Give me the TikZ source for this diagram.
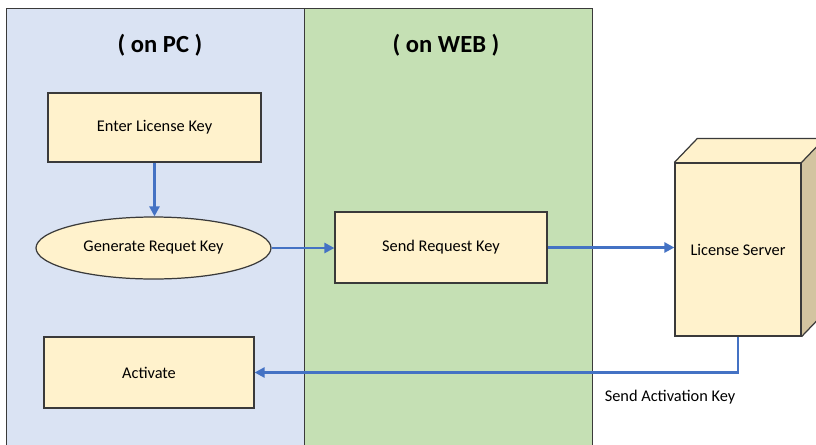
\documentclass[tikz,border=0pt]{standalone}
\usepackage{fontspec}
\setmainfont{Carlito}
\usetikzlibrary{positioning, shapes.geometric, arrows.meta, calc}

\definecolor{pcblue}{HTML}{DAE3F3}
\definecolor{webgreen}{HTML}{C5E0B4}
\definecolor{boxyellow}{HTML}{FFF2CC}
\definecolor{cubeside}{HTML}{D3C4A0}
\definecolor{flowblue}{HTML}{4472C4}
\definecolor{edgegray}{HTML}{3A3A3A}

\begin{document}
\begin{tikzpicture}[
    x=0.02cm, y=-0.02cm,
    font=\fontsize{9.3}{11}\selectfont,
    harrow/.style={-{Triangle[length=2mm, width=2mm]}, line width=1.4pt, color=flowblue},
    box/.style={
        rectangle,
        minimum height=1.4cm,
        text centered,
        draw=edgegray,
        line width=0.7pt,
        fill=boxyellow
    },
    lane/.style={
        rectangle,
        anchor=north west,
        minimum height=9.2cm,
        draw=edgegray,
        line width=0.8pt,
        fill=#1
    },
    lanelabel/.style={
        font=\fontsize{14}{16}\selectfont\bfseries
    }
]

% page size of the reference
\clip (0,0) rectangle (816,444);

% === SWIM LANES ===
\node (pc) [lane=pcblue, minimum width=5.96cm] at (6,8) {};
\node (web) [lane=webgreen, minimum width=5.76cm] at (304,8) {};
\node (pctitle) [lanelabel] at (160,45) {( on PC )};
\node (webtitle) [lanelabel] at (446,45) {( on WEB )};

% === PC SIDE ===
\node (enter) [box, minimum width=4.26cm, minimum height=1.38cm] at (154.5,127.5) {Enter License Key};
\node (generate) [ellipse, draw=edgegray, line width=0.7pt, fill=boxyellow,
    minimum width=4.7cm, minimum height=1.24cm] at (153.5,248) {Generate Requet Key};
\node (activate) [box, minimum width=4.2cm, minimum height=1.42cm] at (149,372.5) {Activate};

% === WEB SIDE ===
\node (send) [box, minimum width=4.24cm, minimum height=1.42cm] at (441,247.5) {Send Request Key};

% === LICENSE SERVER (cube) ===
\node (server) [box, minimum width=2.52cm, minimum height=3.46cm] at (738,249.5) {License Server};
\fill [boxyellow] (server.north west) -- ([shift={(23,-24)}]server.north west)
    -- ([shift={(23,-24)}]server.north east) -- (server.north east) -- cycle;
\fill [cubeside] (server.north east) -- ([shift={(23,-24)}]server.north east)
    -- ([shift={(23,-24)}]server.south east) -- (server.south east) -- cycle;
\draw [edgegray, line width=0.7pt, line join=round]
    (server.north west) -- ([shift={(23,-24)}]server.north west)
    -- ([shift={(23,-24)}]server.north east) -- ([shift={(23,-24)}]server.south east)
    -- (server.south east)
    (server.north east) -- ([shift={(23,-24)}]server.north east);
\draw [edgegray, line width=0.7pt] (server.north west) rectangle (server.south east);

% === CONNECTORS ===
\draw [harrow] (enter.south) -- (enter.south |- generate.north);
\draw [harrow] (generate.east) -- (generate.east -| send.west);
\draw [harrow] (send.east) -- (send.east -| server.west);
\draw [harrow] (server.south) |- (activate.east);

\node (sendkey) at (670,397) {Send Activation Key};

\end{tikzpicture}
\end{document}
